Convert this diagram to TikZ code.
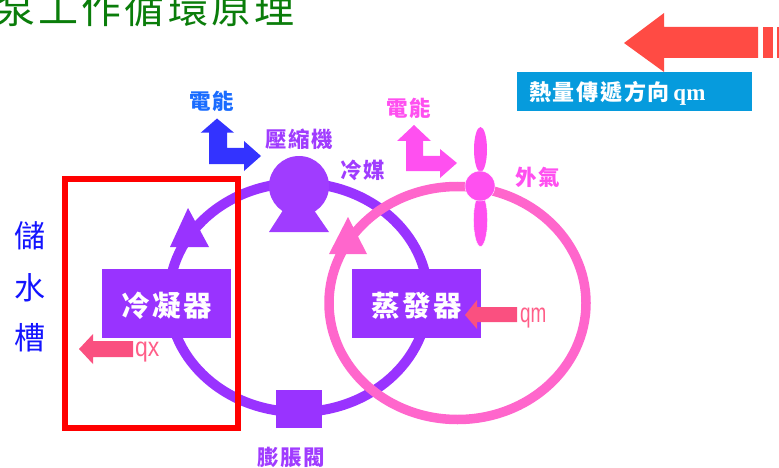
\documentclass[tikz,border=0pt]{standalone}
\usepackage{fontspec}
\usetikzlibrary{shapes.geometric}
\setmainfont{Liberation Serif}
\newfontfamily\cjk{Noto Sans CJK TC}
\newfontfamily\cjkwide[LetterSpace=8]{Noto Sans CJK TC}
\newfontfamily\latinnarrow{Liberation Sans}
\definecolor{refrigviolet}{HTML}{9933FF}
\definecolor{labelviolet}{HTML}{A03CFF}
\definecolor{airpink}{HTML}{FF66CC}
\definecolor{fanpink}{HTML}{FF50F0}
\definecolor{heatred}{HTML}{FF4B44}
\definecolor{qarrow}{HTML}{FA5080}
\definecolor{qtext}{HTML}{FF5E88}
\definecolor{titlegreen}{HTML}{0A7D0A}
\definecolor{legendblue}{HTML}{069BDD}
\definecolor{powerblue}{HTML}{3333FF}
\definecolor{powerlabel}{HTML}{1A6CFF}
\definecolor{tankblue}{HTML}{1414FF}
\tikzset{
	label text/.style={font=\cjkwide\bfseries\fontsize{21.5}{21.5}\selectfont},
	unit box/.style={fill=refrigviolet,minimum width=129pt,minimum height=69pt},
	unit text/.style={text=white,font=\cjkwide\bfseries\fontsize{28.5}{28.5}\selectfont},
	tank text/.style={text=tankblue,font=\cjk\fontsize{31}{31}\selectfont},
	q text/.style={text=qtext,font=\latinnarrow\fontsize{27}{27}\selectfont}
}
\begin{document}
\begin{tikzpicture}[x=1pt,y=-1pt,every node/.style={inner sep=0pt,outer sep=0pt}]
	\useasboundingbox (0,0) rectangle (779,468);
	\clip (0,0) rectangle (779,468);
	\node [text=titlegreen,font=\cjkwide\fontsize{40}{40}\selectfont] (title) at (145,8) {泵工作循環原理};
	% big arrow and legend
	\fill [heatred] (624,43) -- (664,13) -- (664,27) -- (758,27) -- (758,58) -- (664,58) -- (664,72) -- cycle;
	\fill [heatred] (763,27) rectangle (773,58);
	\fill [heatred] (777,27) rectangle (779,58);
	\node [fill=legendblue,minimum width=235pt,minimum height=39pt] (legend) at (634.5,91.5) {};
	\node [text=white,anchor=west,font=\cjkwide\bfseries\fontsize{22}{22}\selectfont] (legendtext) at (529,93)
		{熱量傳遞方向\,{\fontspec{Liberation Serif}\bfseries\fontsize{23}{23}\selectfont qm}};
	% loops
	\draw [refrigviolet,line width=10pt] (298.5,297.5) ellipse [x radius=129.5,y radius=114.5];
	\draw [airpink,line width=9.5pt] (457.5,303) ellipse [x radius=128.5,y radius=116.5];
	\fill [refrigviolet] (188,208) -- (209,247) -- (170,247) -- cycle;
	\fill [airpink] (348,217) -- (367,254) -- (329,254) -- cycle;
	% compressor and valve
	\fill [labelviolet] (298,187) -- (329,232) -- (269,232) -- cycle;
	\node [circle,fill=labelviolet,minimum size=60pt] (compressor) at (299,186) {};
	\node [fill=refrigviolet,minimum width=46pt,minimum height=38pt] (valve) at (299,409) {};
	% fan
	\node [ellipse,fill=fanpink,minimum width=13pt,minimum height=45pt] (bladetop) at (480.5,149.5) {};
	\node [ellipse,fill=fanpink,draw=white,minimum width=14pt,minimum height=53pt] (bladebottom) at (480.5,220) {};
	\node [circle,fill=fanpink,draw=white,minimum size=30pt] (hub) at (480,186) {};
	% units
	\node [unit box] (condenser) at (166.5,303.5) {};
	\node [unit box] (evaporator) at (416.5,303.5) {};
	\node [unit text] (condensertext) at (166.5,306) {冷凝器};
	\node [unit text] (evaporatortext) at (416.5,306) {蒸發器};
	% power arrows
	\fill [powerblue] (217,118.5) -- (234,132.7) -- (227,132.7) -- (227,148) -- (244,148) -- (244,141)
		-- (261,156) -- (244,171) -- (244,164) -- (209,164) -- (209,132.7) -- (200.7,132.7) -- cycle;
	\fill [fanpink] (414,125) -- (431,141) -- (423,141) -- (423,156) -- (440,156) -- (440,149)
		-- (457,163) -- (440,178) -- (440,171) -- (406,171) -- (406,141) -- (397,141) -- cycle;
	% heat arrows
	\fill [qarrow] (79,349) -- (93,334) -- (93,341) -- (133,341) -- (133,357) -- (93,357) -- (93,364) -- cycle;
	\fill [qarrow] (465,315) -- (477,300) -- (477,307) -- (517,307) -- (517,322) -- (477,322) -- (477,329) -- cycle;
	\node [q text,anchor=west,xscale=.85] (qx) at (135,352) {qx};
	\node [q text,anchor=west,xscale=.7] (qm) at (520,318) {qm};
	% tank
	\draw [red,line width=6pt] (65,179) rectangle (238,428);
	\node [tank text] (tank1) at (30,236) {儲};
	\node [tank text] (tank2) at (30,288) {水};
	\node [tank text] (tank3) at (30,338) {槽};
	% labels
	\node [label text,text=powerlabel] (power1) at (212,101) {電能};
	\node [label text,text=fanpink] (power2) at (409,108) {電能};
	\node [label text,text=labelviolet] (compressorlabel) at (299,139) {壓縮機};
	\node [label text,text=labelviolet] (refrigerant) at (363,170) {冷媒};
	\node [label text,text=labelviolet] (valvelabel) at (291,457) {膨脹閥};
	\node [label text,text=fanpink] (air) at (538,177) {外氣};
\end{tikzpicture}
\end{document}
